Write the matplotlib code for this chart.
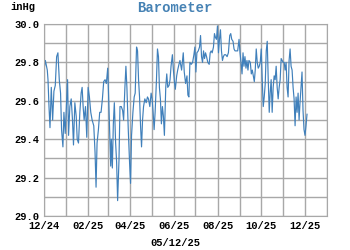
import matplotlib.pyplot as plt
import matplotlib.dates as mdates
import numpy as np
import pandas as pd

# days since 2024-12-01 and barometer readings (inHg)
start = pd.Timestamp("2024-12-01")
day_offset = [
    0, 1.9, 4.6, 5.6, 7.0, 8.4, 10.2, 12.1, 13.9, 15.8, 17.7, 19.5, 21.4, 23.2, 24.6,
    26.5, 27.9, 29.7, 31.6, 33.0, 34.4, 36.2, 38.1, 39.9, 41.3, 43.2, 45.1, 46.5, 48.3,
    50.2, 52.0, 53.4, 54.8, 56.2, 58.1, 59.9, 61.8, 63.6, 65.5, 67.4, 69.7, 71.5, 72.9,
    74.3, 76.2, 78.0, 79.9, 81.8, 83.6, 85.5, 87.3, 89.2, 90.6, 92.0, 93.4, 94.3, 95.7,
    97.1, 98.5, 100.3, 101.7, 103.1, 105.0, 106.4, 108.2, 110.1, 111.5, 113.3, 114.7,
    116.1, 118.0, 119.8, 121.2, 122.6, 124.5, 126.3, 127.7, 129.6, 131.0, 132.4, 133.8,
    135.2, 136.6, 138.0, 139.4, 141.2, 143.1, 144.9, 146.3, 148.2, 150.0, 151.4, 152.8,
    154.2, 155.6, 157.5, 158.9, 160.3, 161.6, 163.0, 164.4, 165.8, 167.2, 168.6, 170.5,
    171.9, 173.3, 175.1, 176.5, 177.9, 179.8, 181.2, 182.6, 183.9, 185.8, 187.2, 189.0,
    190.4, 192.7, 195.0, 196.4, 198.3, 200.2, 201.5, 202.9, 204.3, 206.2, 208.1, 209.9,
    211.3, 212.7, 214.1, 216.0, 217.8, 219.2, 220.6, 222.0, 223.4, 224.8, 226.2, 227.6,
    229.4, 231.3, 232.7, 234.1, 235.5, 237.3, 238.7, 240.1, 241.5, 242.9, 244.3, 245.7,
    247.1, 248.5, 249.9, 251.2, 252.6, 254.5, 256.4, 258.2, 260.1, 261.5, 262.9, 264.7,
    266.1, 267.5, 269.4, 271.2, 273.1, 274.5, 275.9, 277.3, 278.7, 280.0, 281.4, 282.8,
    284.2, 285.6, 287.0, 288.9, 290.3, 291.7, 293.1, 294.5, 295.8, 297.2, 298.6, 300.0,
    301.4, 302.8, 304.2, 305.6, 307.0, 308.4, 309.8, 311.2, 312.6, 314.0, 315.4, 316.7,
    318.1, 319.5, 320.9, 322.3, 323.7, 325.1, 326.5, 327.9, 329.3, 330.7, 332.1, 333.5,
    334.9, 336.3, 337.6, 339.0, 340.4, 341.8, 343.2, 344.6, 346.0, 347.4, 348.8, 350.2,
    351.6, 353.0, 354.4, 355.8, 357.2, 358.5, 359.9, 361.3, 362.7, 364.1, 365.5, 366.9,
    368.3,
]
pressure = [
    29.76, 29.81, 29.76, 29.71, 29.57, 29.46, 29.67, 29.50, 29.65, 29.68, 29.83, 29.85,
    29.71, 29.64, 29.45, 29.36, 29.54, 29.43, 29.59, 29.71, 29.42, 29.57, 29.61, 29.50,
    29.37, 29.59, 29.52, 29.40, 29.38, 29.54, 29.64, 29.67, 29.57, 29.50, 29.57, 29.41,
    29.67, 29.62, 29.54, 29.50, 29.47, 29.33, 29.15, 29.38, 29.45, 29.54, 29.54, 29.61,
    29.70, 29.71, 29.69, 29.77, 29.61, 29.43, 29.26, 29.40, 29.25, 29.48, 29.59, 29.38,
    29.28, 29.08, 29.29, 29.57, 29.57, 29.55, 29.50, 29.67, 29.78, 29.67, 29.45, 29.28,
    29.17, 29.42, 29.54, 29.62, 29.64, 29.88, 29.86, 29.71, 29.62, 29.47, 29.36, 29.50,
    29.57, 29.61, 29.59, 29.62, 29.61, 29.57, 29.64, 29.61, 29.54, 29.45, 29.54, 29.71,
    29.87, 29.83, 29.67, 29.61, 29.48, 29.57, 29.52, 29.42, 29.67, 29.74, 29.67, 29.68,
    29.71, 29.78, 29.84, 29.76, 29.70, 29.66, 29.73, 29.76, 29.79,
    29.81, 29.76, 29.85, 29.75, 29.69, 29.73, 29.63, 29.62, 29.80, 29.79, 29.80, 29.84,
    29.88, 29.75, 29.85, 29.86, 29.88, 29.94, 29.83, 29.80, 29.86, 29.82, 29.85, 29.83,
    29.80, 29.79, 29.85, 29.86, 29.85, 29.88, 29.95, 29.93, 29.92, 29.99, 29.85, 29.92,
    29.97, 29.86, 29.81, 29.83, 29.84, 29.84, 29.83, 29.85, 29.94, 29.95, 29.92, 29.91,
    29.87, 29.86, 29.86, 29.86, 29.92, 29.85, 29.80, 29.74, 29.85, 29.78, 29.83, 29.77,
    29.81, 29.76, 29.81, 29.80, 29.74, 29.76, 29.73, 29.70, 29.76, 29.87, 29.80, 29.77,
    29.78, 29.80, 29.87, 29.71, 29.57, 29.62, 29.69, 29.86, 29.91, 29.71, 29.54, 29.64,
    29.71, 29.54, 29.67, 29.73, 29.71, 29.78, 29.67, 29.61, 29.67, 29.71, 29.82, 29.81,
    29.80, 29.80, 29.76, 29.80, 29.67, 29.62, 29.81, 29.87, 29.78, 29.76, 29.67, 29.61,
    29.47, 29.62, 29.54, 29.64, 29.50, 29.59, 29.67, 29.75, 29.55, 29.45, 29.42, 29.47,
    29.53,
]
title = "Barometer"
y_unit = "inHg"
x_caption = "05/12/25"

dates = start + pd.to_timedelta(day_offset, unit="D")

font = "Liberation Mono"
grid_col = "#a8a8a8"
line_col = "#4080bb"

fig = plt.figure(figsize=(3.5, 2.5), dpi=100)
ax = fig.add_axes([0.1257, 0.136, 0.808, 0.768])

ax.plot(dates, pressure, color=line_col, lw=0.85)

ax.set_xlim(pd.Timestamp("2024-12-01"), pd.Timestamp("2026-01-01"))
ax.set_ylim(29.0, 30.0)

# labels every other month, grid every month
ax.xaxis.set_major_locator(mdates.MonthLocator(bymonth=[12, 2, 4, 6, 8, 10]))
ax.xaxis.set_major_formatter(mdates.DateFormatter("%m/%y"))
ax.xaxis.set_minor_locator(mdates.MonthLocator())
ax.set_yticks(np.arange(29.0, 30.01, 0.2))
ax.set_yticks(np.arange(29.0, 30.01, 0.1), minor=True)
ax.yaxis.set_major_formatter(plt.FormatStrFormatter("%.1f"))

ax.grid(True, which="both", color=grid_col, lw=1)
ax.set_axisbelow(True)
ax.tick_params(which="both", length=0)
ax.tick_params(axis="x", pad=3.5)
ax.tick_params(axis="y", pad=3)
for lab in ax.get_xticklabels() + ax.get_yticklabels():
    lab.set_fontfamily(font)
    lab.set_fontweight("bold")
    lab.set_fontsize(7.5)
for sp in ax.spines.values():
    sp.set_color(grid_col)

fig.text(0.5, 0.97, title, ha="center", va="center", color="#4682b4",
         fontfamily=font, fontweight="bold", fontsize=10)
fig.text(0.03, 0.972, y_unit, ha="left", va="center",
         fontfamily=font, fontweight="bold", fontsize=7.5)
fig.text(0.5, 0.028, x_caption, ha="center", va="center",
         fontfamily=font, fontweight="bold", fontsize=7.5)

fig.savefig("out.png", dpi=100)
